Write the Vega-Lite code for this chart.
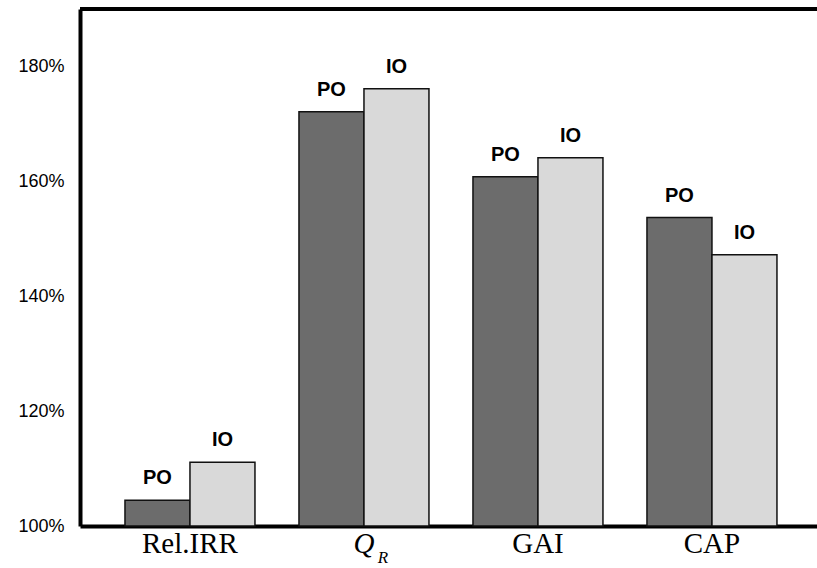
{
  "$schema": "https://vega.github.io/schema/vega-lite/v6.json",
  "width": 737,
  "height": 517,
  "autosize": "none",
  "padding": {"left": 80, "top": 9, "right": 0, "bottom": 42},
  "background": "white",
  "config": {"view": {"stroke": null}},
  "data": {
    "values": [
      {"cat": "Rel.IRR", "group": "PO", "value": 104.5},
      {"cat": "Rel.IRR", "group": "IO", "value": 111.1},
      {"cat": "Q_R", "group": "PO", "value": 172.1},
      {"cat": "Q_R", "group": "IO", "value": 176.1},
      {"cat": "GAI", "group": "PO", "value": 160.8},
      {"cat": "GAI", "group": "IO", "value": 164.1},
      {"cat": "CAP", "group": "PO", "value": 153.7},
      {"cat": "CAP", "group": "IO", "value": 147.2}
    ]
  },
  "layer": [
    {
      "mark": {"type": "bar", "stroke": "#111111", "strokeWidth": 1.5},
      "encoding": {
        "x": {
          "field": "cat",
          "type": "nominal",
          "sort": ["Rel.IRR", "Q_R", "GAI", "CAP"],
          "scale": {"paddingInner": 0.2529, "paddingOuter": 0.2443, "align": 0.529, "round": false},
          "axis": {
            "title": null,
            "ticks": false,
            "domainColor": "black",
            "domainWidth": 4,
            "labelFont": "Liberation Serif",
            "labelFontSize": 29,
            "labelColor": "black",
            "labelPadding": 3,
            "labelAngle": 0,
            "labelExpr": "datum.value == 'Q_R' ? 'Q' : datum.value",
            "labelFontStyle": {"condition": {"test": "datum.value == 'Q_R'", "value": "italic"}, "value": "normal"}
          }
        },
        "xOffset": {"field": "group", "type": "nominal", "sort": ["PO", "IO"], "scale": {"paddingInner": 0, "paddingOuter": 0}},
        "y": {
          "field": "value",
          "type": "quantitative",
          "scale": {"domain": [100, 190], "nice": false, "zero": false},
          "axis": {
            "title": null,
            "grid": false,
            "ticks": false,
            "values": [100, 120, 140, 160, 180],
            "labelExpr": "datum.value + '%'",
            "domainColor": "black",
            "domainWidth": 4,
            "labelFont": "Liberation Sans",
            "labelFontSize": 18,
            "labelColor": "black",
            "labelPadding": 16
          }
        },
        "y2": {"datum": 100},
        "color": {
          "field": "group",
          "type": "nominal",
          "scale": {"domain": ["PO", "IO"], "range": ["#6c6c6c", "#d9d9d9"]},
          "legend": null
        }
      }
    },
    {
      "mark": {"type": "text", "font": "Liberation Sans", "fontWeight": "bold", "fontSize": 20, "dy": -16, "baseline": "alphabetic", "color": "black"},
      "encoding": {
        "x": {"field": "cat", "type": "nominal", "sort": ["Rel.IRR", "Q_R", "GAI", "CAP"]},
        "xOffset": {"field": "group", "type": "nominal", "sort": ["PO", "IO"]},
        "y": {"field": "value", "type": "quantitative"},
        "text": {"field": "group"}
      }
    },
    {
      "mark": {"type": "rule", "strokeWidth": 3.5, "color": "black"},
      "encoding": {"y": {"datum": 190}}
    },
    {
      "data": {"values": [{"label": "R"}]},
      "mark": {"type": "text", "font": "Liberation Serif", "fontStyle": "italic", "fontSize": 17, "dx": 19, "dy": 37, "baseline": "alphabetic", "color": "black"},
      "encoding": {
        "x": {"datum": "Q_R"},
        "y": {"datum": 100},
        "text": {"field": "label"}
      }
    }
  ]
}
